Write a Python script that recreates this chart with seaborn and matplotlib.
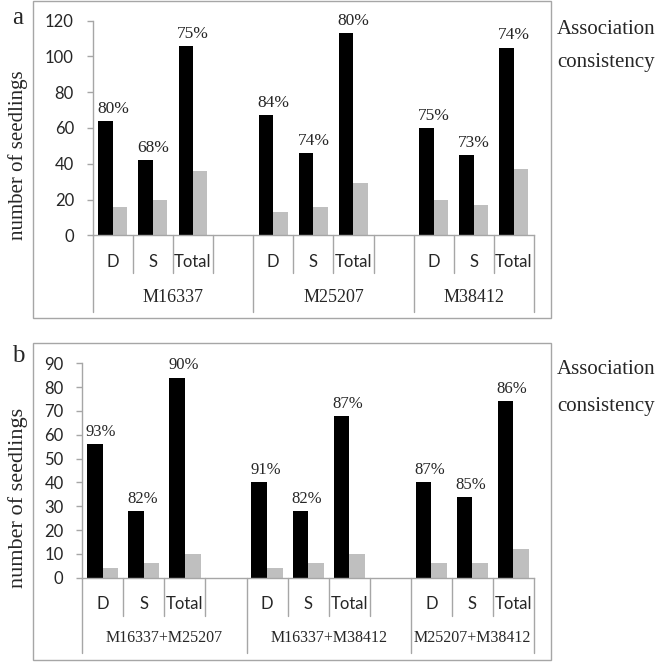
import pandas as pd
import matplotlib
matplotlib.use("Agg")
import matplotlib.pyplot as plt
import matplotlib.transforms as mtransforms
from matplotlib.patches import Rectangle
import seaborn as sns

# ---- data ----
SUBSETS = ["D", "S", "Total"]

GROUPS_A       = ["M16337", "M25207", "M38412"]
CONSISTENT_A   = [64, 42, 106, 67, 46, 113, 60, 45, 105]
INCONSISTENT_A = [16, 20, 36, 13, 16, 29, 20, 17, 37]
PCT_A          = ["80%", "68%", "75%", "84%", "74%", "80%", "75%", "73%", "74%"]
YTICKS_A       = [0, 20, 40, 60, 80, 100, 120]

GROUPS_B       = ["M16337+M25207", "M16337+M38412", "M25207+M38412"]
CONSISTENT_B   = [56, 28, 84, 40, 28, 68, 40, 34, 74]
INCONSISTENT_B = [4, 6, 10, 4, 6, 10, 6, 6, 12]
PCT_B          = ["93%", "82%", "90%", "91%", "82%", "87%", "87%", "85%", "86%"]
YTICKS_B       = [0, 10, 20, 30, 40, 50, 60, 70, 80, 90]

BLACK = "#000000"
GREY  = "#bfbfbf"
LINE  = "#a6a6a6"
SERIF = ["Liberation Serif", "DejaVu Serif"]
SANS  = "Lato"

sns.set_style("white")
plt.rcParams["font.family"] = [SANS, "DejaVu Sans"]

STEP = len(SUBSETS) + 1   # one blank slot after each group


def make_frame(consistent, inconsistent):
    rows = []
    for i, (c, n) in enumerate(zip(consistent, inconsistent)):
        g, s = divmod(i, len(SUBSETS))
        pos = g * STEP + s
        rows.append({"pos": pos, "kind": "consistent",   "count": c})
        rows.append({"pos": pos, "kind": "inconsistent", "count": n})
    return pd.DataFrame(rows)


def draw_panel(ax, groups, consistent, inconsistent, pct, yticks,
               bar_w, pct_size, grp_size, short_y, long_y, sub_y, grp_y):
    df = make_frame(consistent, inconsistent)
    sns.barplot(data=df, x="pos", y="count", hue="kind", native_scale=True,
                palette=[BLACK, GREY], width=bar_w * 2, saturation=1,
                errorbar=None, linewidth=0, legend=False, ax=ax)

    n_slots = len(groups) * STEP - 1
    ax.set_xlim(-0.5, n_slots - 0.5)
    ax.set_ylim(yticks[0], yticks[-1])
    ax.set_yticks(yticks)
    ax.set_xticks([])
    ax.set_xlabel("")
    ax.set_ylabel("")
    ax.tick_params(axis="y", length=4.5, width=1, color=LINE, pad=9,
                   labelsize=12, left=True)
    for side in ["top", "right"]:
        ax.spines[side].set_visible(False)
    for side in ["left", "bottom"]:
        ax.spines[side].set_color(LINE)
        ax.spines[side].set_linewidth(1)

    # percentages over the black bars
    for i, (c, p) in enumerate(zip(consistent, pct)):
        g, s = divmod(i, len(SUBSETS))
        pos = g * STEP + s
        ax.annotate(p, (pos - bar_w - 0.03, c), xytext=(0, 3),
                    textcoords="offset points", ha="left", va="bottom",
                    fontsize=pct_size, family=SERIF)

    # category table under the axis
    trans = mtransforms.blended_transform_factory(ax.transData, ax.transAxes)
    for g, name in enumerate(groups):
        start = g * STEP - 0.5
        end = min(start + STEP, n_slots - 0.5)
        ax.plot([start, start], [0, long_y], color=LINE, lw=1,
                transform=trans, clip_on=False)
        x = start + 1
        while x < end - 0.01:
            ax.plot([x, x], [0, short_y], color=LINE, lw=1,
                    transform=trans, clip_on=False)
            x += 1
        for s, sub in enumerate(SUBSETS):
            ax.text(g * STEP + s, sub_y, sub, transform=trans,
                    ha="center", va="center", fontsize=12)
        ax.text((start + end) / 2, grp_y, name, transform=trans,
                ha="center", va="center", fontsize=grp_size, family=SERIF)
    ax.plot([n_slots - 0.5] * 2, [0, long_y], color=LINE, lw=1,
            transform=trans, clip_on=False)


W, H = 660, 663
fig = plt.figure(figsize=(W / 100, H / 100), dpi=100)

ax_a = fig.add_axes([92.7 / W, 1 - 235.3 / H, 441.3 / W, 214.6 / H])
ax_b = fig.add_axes([82.3 / W, 1 - 577.7 / H, 451.7 / W, 214.4 / H])

draw_panel(ax_a, GROUPS_A, CONSISTENT_A, INCONSISTENT_A, PCT_A, YTICKS_A,
           bar_w=0.36, pct_size=12.5, grp_size=13,
           short_y=-0.177, long_y=-0.356, sub_y=-0.124, grp_y=-0.292)
draw_panel(ax_b, GROUPS_B, CONSISTENT_B, INCONSISTENT_B, PCT_B, YTICKS_B,
           bar_w=0.38, pct_size=12, grp_size=11.5,
           short_y=-0.179, long_y=-0.353, sub_y=-0.123, grp_y=-0.283)

# panel frames
for (x0, y0, x1, y1) in [(33, 1, 551, 318), (33, 343.3, 550.7, 659.5)]:
    fig.add_artist(Rectangle((x0 / W, 1 - y1 / H), (x1 - x0) / W, (y1 - y0) / H,
                             transform=fig.transFigure, fill=False,
                             edgecolor=LINE, lw=1))

# panel letters, y labels, side notes
fig.text(18 / W, 1 - 23.5 / H, "a", fontsize=18, family=SERIF,
         ha="center", va="baseline")
fig.text(18.5 / W, 1 - 362 / H, "b", fontsize=18, family=SERIF,
         ha="center", va="baseline")
for yc, size in [(155, 15), (498, 16)]:
    fig.text(18 / W, 1 - yc / H, "number of seedlings", rotation=90,
             fontsize=size, family=SERIF, ha="center", va="center")
for y1, y2 in [(30, 63), (370, 406.7)]:
    fig.text(557 / W, 1 - y1 / H, "Association", fontsize=15, family=SERIF,
             ha="left", va="center")
    fig.text(557 / W, 1 - y2 / H, "consistency", fontsize=15, family=SERIF,
             ha="left", va="center")

fig.savefig("out.png", dpi=100)
